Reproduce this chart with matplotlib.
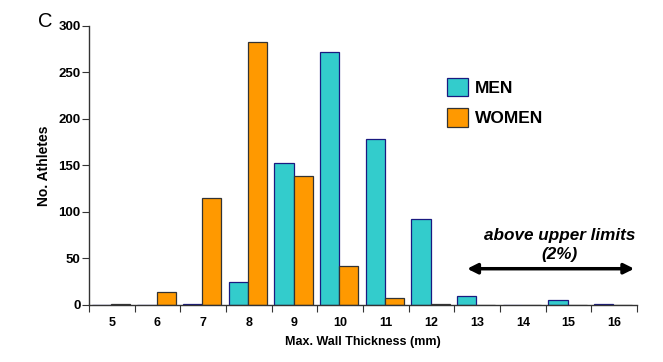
import numpy as np
import matplotlib.pyplot as plt
from matplotlib.ticker import FixedLocator, NullFormatter

# Data
thickness = [5, 6, 7, 8, 9, 10, 11, 12, 13, 14, 15, 16]
men = [0, 0, 1, 25, 153, 272, 178, 92, 10, 0, 5, 1]
women = [1, 14, 115, 283, 139, 42, 7, 1, 0, 0, 0, 0]

plt.rcParams['font.family'] = ['Liberation Sans', 'DejaVu Sans']

fig = plt.figure(figsize=(6.63, 3.62), dpi=100)
ax = fig.add_axes([0.1342, 0.1575, 0.8266, 0.7707])

x = np.array(thickness)
w = 0.42
ax.bar(x - w / 2 - 0.02, men, width=w, color="#33CCCC", edgecolor="#1a1a80", linewidth=0.9, label="MEN")
ax.bar(x + w / 2 - 0.02, women, width=w, color="#FF9900", edgecolor="#333333", linewidth=0.9, label="WOMEN")

ax.set_xlim(4.5, 16.5)
ax.set_ylim(0, 300)
for s in ["top", "right"]:
    ax.spines[s].set_visible(False)
for s in ["left", "bottom"]:
    ax.spines[s].set_color("#333333")
    ax.spines[s].set_linewidth(1.0)

# ticks on category boundaries, labels in the middle
ax.xaxis.set_major_locator(FixedLocator(np.arange(4.5, 17, 1)))
ax.xaxis.set_major_formatter(NullFormatter())
ax.xaxis.set_minor_locator(FixedLocator(thickness))
ax.set_xticklabels([str(t) for t in thickness], minor=True, fontsize=9, fontweight="bold")
ax.tick_params(axis="x", which="major", length=5, color="#333333", direction="out")
ax.tick_params(axis="x", which="minor", length=0, pad=9)
ax.set_yticks(range(0, 301, 50))
ax.tick_params(axis="y", length=5, color="#333333", pad=1, labelsize=9.5)
for lb in ax.get_yticklabels():
    lb.set_fontweight("bold")

ax.set_xlabel("Max. Wall Thickness (mm)", fontsize=9, fontweight="bold", labelpad=5)
ax.set_ylabel("No. Athletes", fontsize=10, fontweight="bold", labelpad=5)

fig.text(0.058, 0.925, "C", fontsize=14.5)

leg = ax.legend(loc="upper left", bbox_to_anchor=(0.64, 0.84), frameon=False,
                prop={"weight": "bold", "size": 12.5}, handlelength=1.25, handleheight=1.3,
                handletextpad=0.4, labelspacing=0.65, borderaxespad=0)

ax.annotate("", xy=(12.72, 39), xytext=(16.5, 39),
            arrowprops=dict(arrowstyle="<|-|>", color="black", lw=2.5, mutation_scale=15),
            annotation_clip=False)
ax.text(14.8, 75, "above upper limits", ha="center", va="center", fontsize=12.3,
        fontweight="bold", fontstyle="italic")
ax.text(14.8, 54, "(2%)", ha="center", va="center", fontsize=12.3,
        fontweight="bold", fontstyle="italic")

plt.savefig("out.png", dpi=100)
